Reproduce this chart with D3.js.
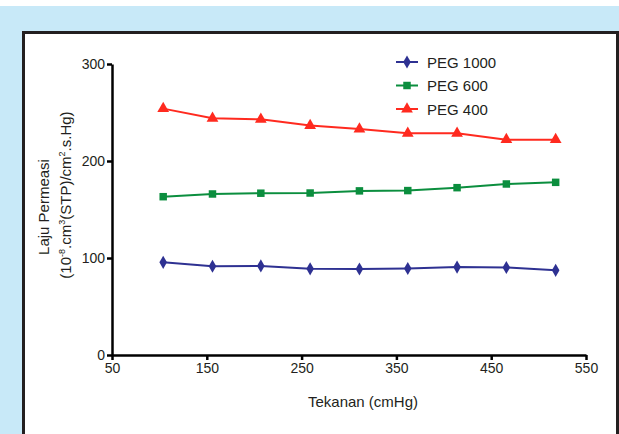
<!DOCTYPE html>
<html>
<head>
<meta charset="utf-8">
<script src="https://cdn.jsdelivr.net/npm/d3@7"></script>
<style>
  html, body { margin: 0; padding: 0; background: white; }
  svg { display: block; }
</style>
</head>
<body>
<script>
// data
let tekanan = [104, 156, 207, 259, 311, 362, 414, 466, 518]
let peg1000 = [95.5, 91.5, 91.8, 88.8, 88.7, 89.2, 90.6, 90.2, 87.3]
let peg600 = [163.2, 166, 166.8, 167, 169.2, 169.5, 172.5, 176.3, 178]
let peg400 = [254, 244, 243, 236.5, 233, 228.5, 228.5, 222, 222]
let seriesNames = ['PEG 1000', 'PEG 600', 'PEG 400']
let xTicks = [50, 150, 250, 350, 450, 550]
let yTicks = [0, 100, 200, 300]

let width = 619, height = 434
let textColor = '#231f20'
let font = 'Liberation Sans, Arial, sans-serif'

let svg = d3.select('body').append('svg')
            .attr('width', width)
            .attr('height', height)

svg.append('rect').attr('width', width).attr('height', height).attr('fill', 'white')
svg.append('rect')
   .attr('x', 0).attr('y', 6)
   .attr('width', width).attr('height', height - 6)
   .attr('fill', '#c8e9f8')

// white panel with dark border (open at the bottom)
svg.append('rect')
   .attr('x', 23.5).attr('y', 32.5)
   .attr('width', 594).attr('height', 420)
   .attr('fill', 'white')
   .attr('stroke', '#231f20')
   .attr('stroke-width', 3)

let x = d3.scaleLinear().domain([50, 550]).range([112, 586])
let y = d3.scaleLinear().domain([0, 300]).range([355, 64])

let xAxis = svg.append('g')
               .attr('transform', `translate(0,${y(0)})`)
               .call(d3.axisBottom(x).tickValues(xTicks).tickSize(5).tickSizeOuter(0).tickPadding(3))
let yAxis = svg.append('g')
               .attr('transform', `translate(${x(50)},0)`)
               .call(d3.axisLeft(y).tickValues(yTicks).tickSize(5).tickSizeOuter(0).tickPadding(2))

for (let ax of [xAxis, yAxis]) {
    ax.select('.domain').attr('stroke', 'black').attr('stroke-width', 2.5)
    ax.selectAll('.tick line').attr('stroke', 'black').attr('stroke-width', 2.5)
    ax.selectAll('.tick text')
      .attr('fill', textColor)
      .attr('font-family', font)
      .attr('font-size', '14px')
}

svg.append('text')
   .attr('x', 363).attr('y', 407)
   .attr('text-anchor', 'middle')
   .attr('fill', textColor)
   .attr('font-family', font)
   .attr('font-size', '15px')
   .text('Tekanan (cmHg)')

svg.append('text')
   .attr('transform', 'translate(49,207) rotate(-90)')
   .attr('text-anchor', 'middle')
   .attr('fill', textColor)
   .attr('font-family', font)
   .attr('font-size', '15px')
   .text('Laju Permeasi')

let line2 = svg.append('text')
               .attr('transform', 'translate(71,195) rotate(-90)')
               .attr('text-anchor', 'middle')
               .attr('fill', textColor)
               .attr('font-family', font)
               .attr('font-size', '15px')
line2.append('tspan').text('(10')
line2.append('tspan').attr('font-size', '9px').attr('dy', -6).text('-8')
line2.append('tspan').attr('dy', 6).text('.cm')
line2.append('tspan').attr('font-size', '9px').attr('dy', -6).text('3')
line2.append('tspan').attr('dy', 6).text('(STP)/cm')
line2.append('tspan').attr('font-size', '9px').attr('dy', -6).text('2')
line2.append('tspan').attr('dy', 6).text('.s.Hg)')

let series = [
    { name: seriesNames[0], values: peg1000, color: '#2e3192', symbol: d3.symbolDiamond, size: 50 },
    { name: seriesNames[1], values: peg600, color: '#0b8e3e', symbol: d3.symbolSquare, size: 56 },
    { name: seriesNames[2], values: peg400, color: '#ff2a1f', symbol: d3.symbolTriangle, size: 60 }
]

let line = d3.line()
             .x(d => x(d[0]))
             .y(d => y(d[1]))

for (let s of series) {
    let pts = tekanan.map((t, i) => [t, s.values[i]])
    svg.append('path')
       .datum(pts)
       .attr('d', line)
       .attr('fill', 'none')
       .attr('stroke', s.color)
       .attr('stroke-width', 2)

    svg.append('g').selectAll('path')
       .data(pts)
       .join('path')
       .attr('transform', d => `translate(${x(d[0])},${y(d[1])})`)
       .attr('d', d3.symbol().type(s.symbol).size(s.size))
       .attr('fill', s.color)
}

// legend
series.forEach((s, i) => {
    let ly = 62 + i * 23.5
    let g = svg.append('g')
    g.append('line')
     .attr('x1', 396).attr('x2', 418)
     .attr('y1', ly).attr('y2', ly)
     .attr('stroke', s.color)
     .attr('stroke-width', 2)
    g.append('path')
     .attr('transform', `translate(407,${ly})`)
     .attr('d', d3.symbol().type(s.symbol).size(s.size))
     .attr('fill', s.color)
    g.append('text')
     .attr('x', 427).attr('y', ly + 5.5)
     .attr('fill', textColor)
     .attr('font-family', font)
     .attr('font-size', '15px')
     .text(s.name)
})
</script>
</body>
</html>
